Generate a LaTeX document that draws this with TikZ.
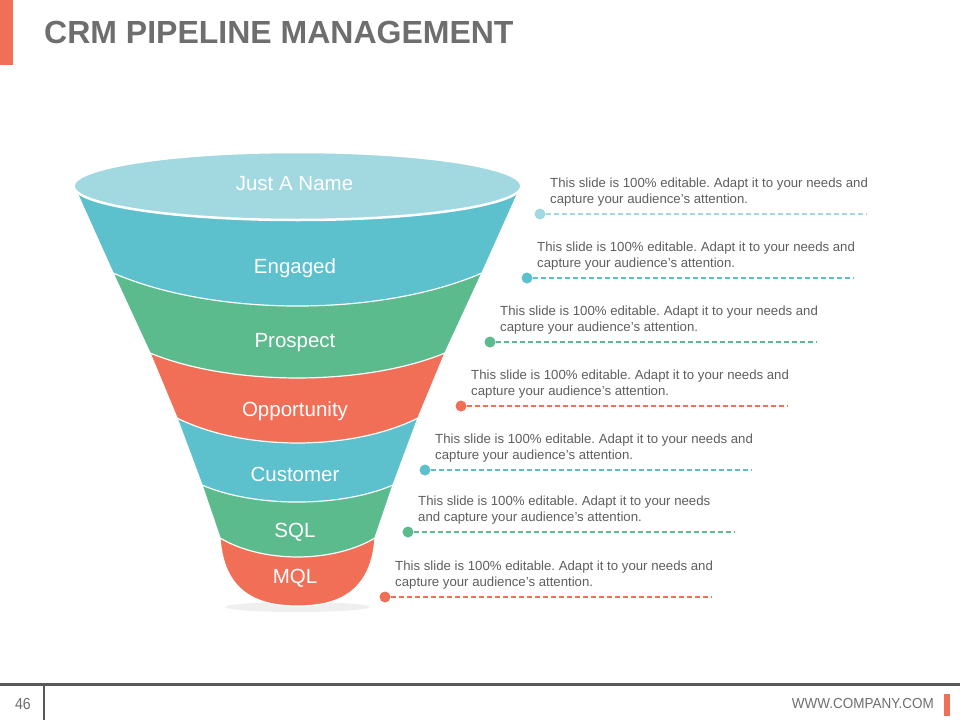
\documentclass[tikz,border=0pt]{standalone}
\usepackage{fontspec}
\setmainfont{Liberation Sans}
\usetikzlibrary{positioning}
\frenchspacing

\definecolor{funnelpale}{HTML}{A2D9E1}
\definecolor{funnelteal}{HTML}{5CC0CD}
\definecolor{funnelgreen}{HTML}{5BBB8D}
\definecolor{funnelorange}{HTML}{F16F57}
\definecolor{titlegray}{HTML}{6E6E6E}
\definecolor{notegray}{HTML}{5E5E5E}
\definecolor{footgray}{HTML}{595959}

\begin{document}
\begin{tikzpicture}[x=1pt,y=-1pt]
  \tikzset{band/.style={draw=white, line width=1.2pt, line join=round}}
  \tikzset{stage/.style={text=white, inner sep=0,
      font=\fontsize{20.5}{24}\selectfont}}
  \tikzset{note/.style={text=notegray, inner sep=0, align=left,
      font=\fontsize{13.2}{16}\selectfont}}
  \tikzset{dot/.style={circle, inner sep=0, minimum size=11pt}}
  \tikzset{lead/.style={line width=1.2pt, dash pattern=on 5pt off 3pt}}
  \useasboundingbox (0,0) rectangle (960,720);

  % header and footer
  \fill[funnelorange] (0,0) rectangle (13,65);
  \node[text=titlegray, anchor=west, inner sep=0,
    font=\fontsize{32}{36}\selectfont\bfseries] (title) at (44,32) {CRM PIPELINE MANAGEMENT};
  \draw[footgray, line width=3pt] (0,684.5) -- (960,684.5);
  \draw[footgray, line width=2.5pt] (44,684) -- (44,720);
  \fill[funnelorange] (944,694) rectangle (950,716);
  \node[text=titlegray, font=\fontsize{16}{18}\selectfont] (page) at (23,704) {\scalebox{0.88}[1]{46}};
  \node[text=titlegray, anchor=east, inner sep=0,
    font=\fontsize{14.5}{16}\selectfont] (site) at (934,703) {\scalebox{0.93}[1]{WWW.COMPANY.COM}};

  % funnel, bottom band first
  \fill[gray!25, opacity=0.5] (297.5,607) ellipse[x radius=72, y radius=5];
  \filldraw[band, fill=funnelorange] (220,538) -- (375,538)
    .. controls (371,598) and (330,606) .. (297.5,606)
    .. controls (265,606) and (224,598) .. (220,538) -- cycle;
  \filldraw[band, fill=funnelgreen] (202,485) -- (393,485) -- (375,538)
    .. controls (332.4,563.3) and (262.6,563.3) .. (220,538) -- cycle;
  \filldraw[band, fill=funnelteal] (177,418) -- (418,418) -- (393,485)
    .. controls (340.5,507.7) and (254.5,507.7) .. (202,485) -- cycle;
  \filldraw[band, fill=funnelorange] (150,353) -- (445,353) -- (418,418)
    .. controls (351.7,451.3) and (243.3,451.3) .. (177,418) -- cycle;
  \filldraw[band, fill=funnelgreen] (113,273) -- (482,273) -- (445,353)
    .. controls (363.9,386.3) and (231.1,386.3) .. (150,353) -- cycle;
  \filldraw[band, fill=funnelteal] (73.5,185) -- (521.5,185) -- (482,273)
    .. controls (380.5,317) and (214.5,317) .. (113,273) -- cycle;
  \filldraw[fill=funnelpale, draw=white, line width=2.5pt] (297.5,186) ellipse[x radius=224, y radius=34];

  \node[stage] (justaname) at (294.5,184) {Just A Name};
  \node[stage] (engaged) at (295,268) {Engaged};
  \node[stage] (prospect) at (295,343) {Prospect};
  \node[stage] (opportunity) at (295,411) {Opportunity};
  \node[stage] (customer) at (295,474) {Customer};
  \node[stage] (sql) at (295,532) {SQL};
  \node[stage] (mql) at (295,578) {MQL};

  % notes
  \node[dot, fill=funnelpale] (dot1) at (540,214) {};
  \node[dot, fill=funnelteal] (dot2) at (527,278) {};
  \node[dot, fill=funnelgreen] (dot3) at (490,342) {};
  \node[dot, fill=funnelorange] (dot4) at (461,406) {};
  \node[dot, fill=funnelteal] (dot5) at (425,470) {};
  \node[dot, fill=funnelgreen] (dot6) at (408,532) {};
  \node[dot, fill=funnelorange] (dot7) at (385,597) {};
  \coordinate (end1) at (866,214);
  \coordinate (end2) at (854,278);
  \coordinate (end3) at (817,342);
  \coordinate (end4) at (788,406);
  \coordinate (end5) at (752,470);
  \coordinate (end6) at (735,532);
  \coordinate (end7) at (712,597);
  \draw[lead, funnelpale] (dot1) -- (end1);
  \draw[lead, funnelteal] (dot2) -- (end2);
  \draw[lead, funnelgreen] (dot3) -- (end3);
  \draw[lead, funnelorange] (dot4) -- (end4);
  \draw[lead, funnelteal] (dot5) -- (end5);
  \draw[lead, funnelgreen] (dot6) -- (end6);
  \draw[lead, funnelorange] (dot7) -- (end7);
  \node[note] (note1) [above right=3.5pt and 6pt of dot1] {This slide is 100\% editable. Adapt it to your needs and\\capture your audience's attention.};
  \node[note] (note2) [above right=3.5pt and 6pt of dot2] {This slide is 100\% editable. Adapt it to your needs and\\capture your audience's attention.};
  \node[note] (note3) [above right=3.5pt and 6pt of dot3] {This slide is 100\% editable. Adapt it to your needs and\\capture your audience's attention.};
  \node[note] (note4) [above right=3.5pt and 6pt of dot4] {This slide is 100\% editable. Adapt it to your needs and\\capture your audience's attention.};
  \node[note] (note5) [above right=3.5pt and 6pt of dot5] {This slide is 100\% editable. Adapt it to your needs and\\capture your audience's attention.};
  \node[note] (note6) [above right=3.5pt and 6pt of dot6] {This slide is 100\% editable. Adapt it to your needs\\and capture your audience's attention.};
  \node[note] (note7) [above right=3.5pt and 6pt of dot7] {This slide is 100\% editable. Adapt it to your needs and\\capture your audience's attention.};
\end{tikzpicture}
\end{document}
